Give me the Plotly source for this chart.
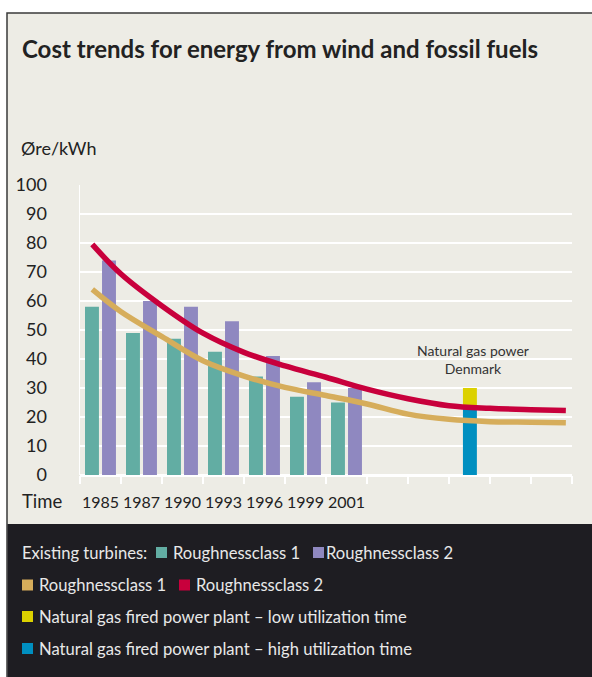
import plotly.graph_objects as go

# ---------------- data ----------------
years = ["1985", "1987", "1990", "1993", "1996", "1999", "2001"]
rough1_existing = [58, 49, 47, 42.5, 34, 27, 25]
rough2_existing = [74, 60, 58, 53, 41, 32, 30]

gas_position = [9]
gas_high_util = [23.5]
gas_low_util_extra = [6.5]

trend_pos = [-0.2, 0.5, 1.5, 2.5, 3.5, 4.5, 5.5, 6.5, 7.5, 8.5, 9.5, 10.5, 11.35]
trend_rough1 = [64, 56.3, 47.7, 39.4, 34.1, 30.2, 27.4, 24.5, 21.0, 19.2, 18.4, 18.2, 18.0]
trend_rough2 = [79.5, 69.3, 58.3, 48.9, 42.3, 37.6, 33.7, 29.6, 26.3, 23.9, 23.0, 22.5, 22.2]

y_ticks = [0, 10, 20, 30, 40, 50, 60, 70, 80, 90, 100]

# ---------------- style ----------------
W, H = 592, 677
L, R, T, B = 80, 20, 185, 202
PW, PH = W - L - R, H - T - B
FONT = "Lato"
BG = "#EDECE5"
DARK = "#1E1D22"
TEAL = "#62ADA3"
PURPLE = "#8F88C0"
RED = "#C8003C"
ORANGE = "#D6AD5B"
YELLOW = "#DCD100"
BLUE = "#008FC0"
TXT = "#222222"


def px(x):
    return (x - L) / PW


def py(y):
    return (H - B - y) / PH


xpos = list(range(len(years)))

fig = go.Figure()
fig.add_trace(go.Bar(x=xpos, y=rough1_existing, marker_color=TEAL, width=0.34, offset=-0.378,
                     name="Existing Roughnessclass 1", marker_line_width=0))
fig.add_trace(go.Bar(x=xpos, y=rough2_existing, marker_color=PURPLE, width=0.34, offset=0.037,
                     name="Existing Roughnessclass 2", marker_line_width=0))
fig.add_trace(go.Bar(x=gas_position, y=gas_high_util, marker_color=BLUE, width=0.34, offset=-0.16,
                     name="high utilization", marker_line_width=0))
fig.add_trace(go.Bar(x=gas_position, y=gas_low_util_extra, base=gas_high_util, marker_color=YELLOW,
                     width=0.34, offset=-0.16, name="low utilization", marker_line_width=0))
fig.add_trace(go.Scatter(x=trend_pos, y=trend_rough1, mode="lines",
                         line=dict(color=ORANGE, width=5.5, shape="spline", smoothing=1),
                         name="Roughnessclass 1"))
fig.add_trace(go.Scatter(x=trend_pos, y=trend_rough2, mode="lines",
                         line=dict(color=RED, width=5.5, shape="spline", smoothing=1),
                         name="Roughnessclass 2"))

shapes = []
# frame background
shapes.append(dict(type="rect", xref="paper", yref="paper", x0=px(7), x1=px(620), y0=py(13), y1=py(700),
                   fillcolor=BG, line=dict(color="#3A3A3A", width=1.5), layer="below"))
# dark legend panel
shapes.append(dict(type="rect", xref="paper", yref="paper", x0=px(7.5), x1=px(620), y0=py(524), y1=py(700),
                   fillcolor=DARK, line=dict(width=0), layer="below"))

annotations = []
annotations.append(dict(text="<b>Cost trends for energy from wind and fossil fuels</b>", xref="paper", yref="paper",
                        x=px(20), y=py(48), xanchor="left", yanchor="middle", showarrow=False,
                        font=dict(family=FONT, size=24, color=TXT)))
annotations.append(dict(text="Øre/kWh", xref="paper", yref="paper", x=px(19), y=py(148),
                        xanchor="left", yanchor="middle", showarrow=False,
                        font=dict(family=FONT, size=18, color=TXT)))
annotations.append(dict(text="Time", xref="paper", yref="paper", x=px(20), y=py(501),
                        xanchor="left", yanchor="middle", showarrow=False,
                        font=dict(family=FONT, size=18.5, color=TXT)))
annotations.append(dict(text="Natural gas power<br>Denmark", x=9.08, y=39.8, xref="x", yref="y",
                        showarrow=False, font=dict(family=FONT, size=14, color="#333333"),
                        xanchor="center", yanchor="middle"))

LEG = "#E8E8E8"


def leg_text(t, x, y):
    annotations.append(dict(text=t, xref="paper", yref="paper", x=px(x), y=py(y), xanchor="left",
                            yanchor="middle", showarrow=False, font=dict(family=FONT, size=16.6, color=LEG)))


def leg_square(color, x, y):
    shapes.append(dict(type="rect", xref="paper", yref="paper", x0=px(x), x1=px(x + 11),
                       y0=py(y + 5.5), y1=py(y - 5.5), fillcolor=color, line=dict(width=0)))


r1, r2, r3, r4 = 552.5, 585, 616.5, 648.5
leg_text("Existing turbines:", 20, r1)
leg_square(TEAL, 156, r1)
leg_text("Roughnessclass 1", 171, r1)
leg_square(PURPLE, 313, r1)
leg_text("Roughnessclass 2", 324, r1)
leg_square(ORANGE, 22, r2)
leg_text("Roughnessclass 1", 37, r2)
leg_square(RED, 179, r2)
leg_text("Roughnessclass 2", 194, r2)
leg_square(YELLOW, 22, r3)
leg_text("Natural gas fired power plant – low utilization time", 37, r3)
leg_square(BLUE, 22, r4)
leg_text("Natural gas fired power plant – high utilization time", 37, r4)

fig.update_layout(
    width=W, height=H,
    margin=dict(l=L, r=R, t=T, b=B, pad=0),
    paper_bgcolor="white",
    plot_bgcolor="rgba(0,0,0,0)",
    showlegend=False,
    barmode="overlay",
    shapes=shapes,
    annotations=annotations,
    font=dict(family=FONT, color=TXT),
)
fig.update_xaxes(
    range=[-0.5, 11.5], tickmode="array", tickvals=xpos, ticktext=years,
    ticks="", showgrid=False, zeroline=False, showline=False,
    tickfont=dict(family=FONT, size=16, color=TXT), ticklabelstandoff=16,
    minor=dict(tickmode="array", tickvals=[i - 0.5 for i in range(13)], ticks="outside",
               ticklen=8, tickwidth=2, tickcolor="white", showgrid=False),
    fixedrange=True,
)
fig.update_yaxes(
    range=[0, 100], tickmode="array", tickvals=y_ticks, ticks="",
    showgrid=True, gridcolor="white", gridwidth=1.5,
    zeroline=True, zerolinecolor="white", zerolinewidth=3,
    showline=True, linecolor="white", linewidth=1.5,
    tickfont=dict(family=FONT, size=18, color=TXT), ticklabelstandoff=28,
    fixedrange=True,
)

fig.write_html(
    "out.html",
    config={"displayModeBar": False, "staticPlot": True},
    post_script="document.body.style.margin='0px';document.documentElement.style.overflow='hidden';",
)
